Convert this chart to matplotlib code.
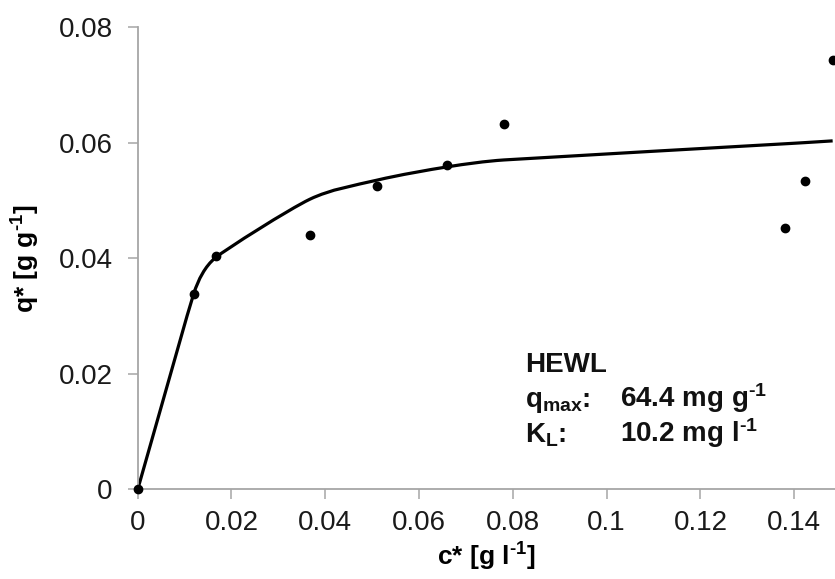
import numpy as np
import matplotlib
matplotlib.use("Agg")
import matplotlib.pyplot as plt
from matplotlib.path import Path
from matplotlib.patches import PathPatch

plt.rcParams["font.family"] = ["Liberation Sans", "DejaVu Sans"]
plt.rcParams["mathtext.fontset"] = "custom"
plt.rcParams["mathtext.rm"] = "Liberation Sans:bold"
plt.rcParams["mathtext.bf"] = "Liberation Sans:bold"
plt.rcParams["mathtext.default"] = "bf"

# measured equilibrium points
c_meas = [0.0, 0.0120, 0.0166, 0.0367, 0.0510, 0.0660, 0.0781, 0.1381, 0.1423, 0.1482]
q_meas = [0.0, 0.0338, 0.0403, 0.0440, 0.0525, 0.0561, 0.0633, 0.0452, 0.0533, 0.0743]
# Langmuir fit line, read at the same concentrations
q_fit = [0.0, 0.0340, 0.0401, 0.0502, 0.0535, 0.0558, 0.0570, 0.0598, 0.0600, 0.0603]

x_ticks = [0, 0.02, 0.04, 0.06, 0.08, 0.1, 0.12, 0.14]
x_tick_labels = ["0", "0.02", "0.04", "0.06", "0.08", "0.1", "0.12", "0.14"]
y_ticks = [0, 0.02, 0.04, 0.06, 0.08]
y_tick_labels = ["0", "0.02", "0.04", "0.06", "0.08"]

HY = "\u2010"  # short hyphen for the exponents


def smooth_path(xs, ys, sx, sy):
    # spreadsheet-like smoothed line through every point; handles are kept
    # short next to short segments so the curve does not overshoot
    pts = np.column_stack([np.asarray(xs) * sx, np.asarray(ys) * sy])
    n = len(pts)
    d = np.hypot(*np.diff(pts, axis=0).T)
    tan = np.zeros_like(pts)
    hlen = np.zeros(n)
    tan[0] = (pts[1] - pts[0]) / d[0]
    tan[-1] = (pts[-1] - pts[-2]) / d[-1]
    hlen[0] = d[0] / 3.0
    hlen[-1] = d[-1] / 3.0
    for i in range(1, n - 1):
        v = pts[i + 1] - pts[i - 1]
        tan[i] = v / np.hypot(*v)
        hlen[i] = min(d[i - 1], d[i]) / 3.0
    verts = [pts[0]]
    codes = [Path.MOVETO]
    for i in range(n - 1):
        c1 = pts[i] + tan[i] * min(hlen[i], d[i] / 3.0)
        c2 = pts[i + 1] - tan[i + 1] * min(hlen[i + 1], d[i] / 3.0)
        verts += [c1, c2, pts[i + 1]]
        codes += [Path.CURVE4] * 3
    verts = np.array(verts) / [sx, sy]
    return Path(verts, codes)


fig = plt.figure(figsize=(8.35, 5.79), dpi=100)
ax = fig.add_axes([0.1649, 0.1546, 0.8351, 0.7988])

grey = "#a6a6a6"
ax.add_patch(PathPatch(smooth_path(c_meas, q_fit, 4690.0, 5780.0), facecolor="none",
                       edgecolor="black", lw=2.3, zorder=2))
ax.plot(c_meas, q_meas, "o", color="black", ms=6, zorder=3, clip_on=False)

ax.set_xlim(0, 0.1487)
ax.set_ylim(0, 0.08)
ax.set_xticks(x_ticks)
ax.set_xticklabels(x_tick_labels)
ax.set_yticks(y_ticks)
ax.set_yticklabels(y_tick_labels)

for side in ["top", "right"]:
    ax.spines[side].set_visible(False)
for side in ["left", "bottom"]:
    ax.spines[side].set_color(grey)
    ax.spines[side].set_linewidth(1.3)
ax.tick_params(axis="both", direction="out", color=grey, width=1.1,
               length=7, labelsize=20, labelcolor="#1a1a1a")
ax.tick_params(axis="y", pad=11)
ax.tick_params(axis="x", pad=8)

ax.set_xlabel("c* [g l$^{" + HY + "1}$]", fontsize=19, fontweight="bold", labelpad=3)
ax.set_ylabel("q* [g g$^{" + HY + "1}$]", fontsize=19, fontweight="bold", labelpad=12)

ann = dict(fontsize=20, fontweight="bold", va="baseline", color="#111111")
ax.text(0.0826, 0.0203, "HEWL", **ann)
ax.text(0.0826, 0.01427, r"q$_{max}$:", **ann)
ax.text(0.0826, 0.0082, r"K$_{L}$:", **ann)
ax.text(0.1028, 0.01427, "64.4 mg g$^{" + HY + "1}$", **ann)
ax.text(0.1028, 0.0082, "10.2 mg l$^{" + HY + "1}$", **ann)

fig.savefig("out.png", dpi=100)
